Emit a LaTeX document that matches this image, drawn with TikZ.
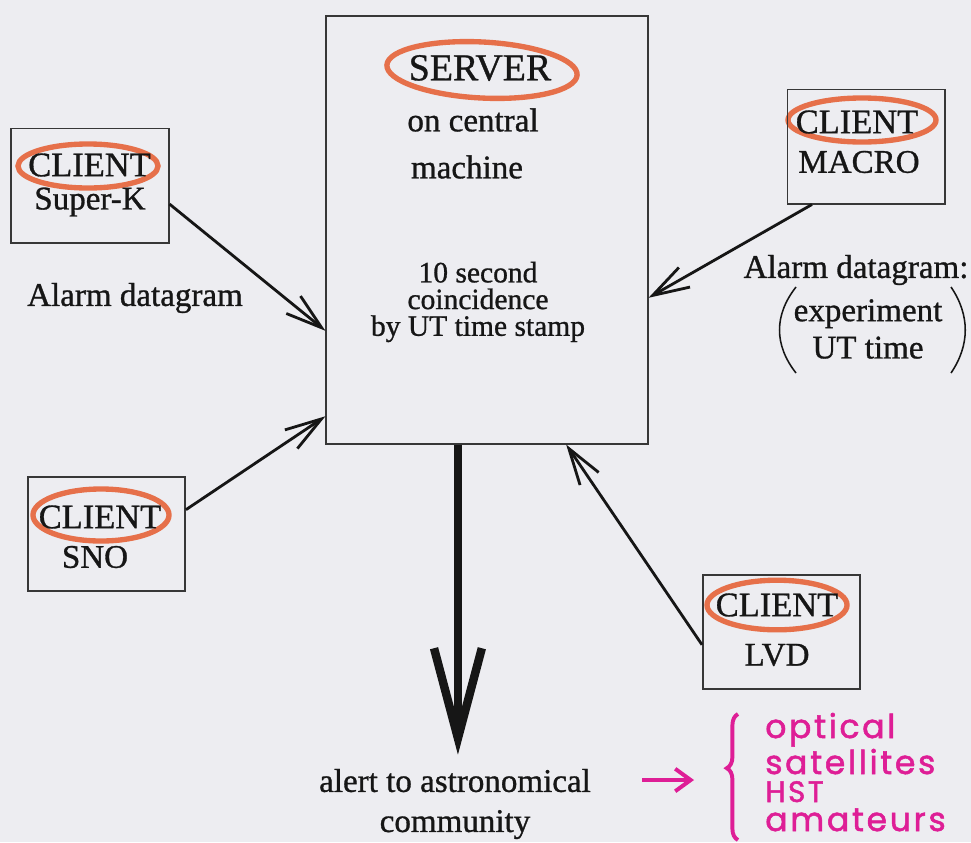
\documentclass[tikz,border=0pt]{standalone}
\usepackage{fontspec}
\setmainfont[FakeBold=0.9]{Liberation Serif}
\newfontfamily\handfont[LetterSpace=8,FakeBold=1.6]{Poppins}
\usetikzlibrary{arrows.meta,calc,decorations.pathreplacing}
\definecolor{paper}{RGB}{237,237,241}
\definecolor{ringc}{RGB}{230,112,74}
\definecolor{handc}{RGB}{222,30,150}
\definecolor{boxline}{RGB}{55,55,55}
\definecolor{ink}{RGB}{22,22,22}
\pgfdeclarelayer{paperlayer}
\pgfdeclarelayer{bg}
\pgfsetlayers{paperlayer,bg,main}
\tikzset{
  clientbox/.style={draw=boxline, line width=1.4pt, minimum width=3.925cm, minimum height=2.85cm, inner sep=0pt},
  serverbox/.style={draw=boxline, line width=1.4pt, minimum width=8.025cm, minimum height=10.675cm, inner sep=0pt},
  txt/.style={font=\fontsize{23.5}{28.5}\selectfont, inner sep=0pt, text=ink},
  clienttxt/.style={font=\fontsize{24.5}{28}\selectfont, inner sep=0pt, text=ink},
  servertxt/.style={font=\fontsize{27}{30}\selectfont, inner sep=0pt, text=ink},
  smalltxt/.style={font=\fontsize{21}{19}\selectfont, inner sep=0pt, text=ink},
  handtxt/.style={font=\handfont\fontsize{23.5}{24}\selectfont, inner sep=0pt, text=handc, anchor=base west, text depth=0pt},
  ringline/.style={draw=ringc, line width=3.8pt},
  thinarrow/.style={draw=ink, line width=2pt, -{Straight Barb[length=26pt,width=16pt]}},
  bigarrow/.style={draw=ink, line width=6pt, -{Straight Barb[length=64pt,width=34pt]}},
  handarrow/.style={draw=handc, line width=2.8pt, -{Straight Barb[length=11pt,width=16pt]}},
}
\begin{document}
\begin{tikzpicture}[x=0.025cm,y=-0.025cm]
\begin{pgfonlayer}{paperlayer}
\fill[paper] (0,0) rectangle (971,842);
\end{pgfonlayer}
\useasboundingbox (0,0) rectangle (971,842);

% boxes
\node[serverbox] (srv) at (487,230) {};
\node[clientbox] (sk) at (90,185.5) {};
\node[clientbox] (sno) at (106.5,534) {};
\node[clientbox] (macro) at (866,146.5) {};
\node[clientbox] (lvd) at (781.5,632) {};

% server texts
\node[servertxt] (st) at (480,68) {SERVER};
\node[txt] (oncentral) at (473,120) {on central};
\node[txt] (machine) at (467,167) {machine};
\node[smalltxt, align=center] (coinc) at (478,302) {10 second\\coincidence\\by UT time stamp};

% client texts
\node[clienttxt] (c1) at (89.5,165) {CLIENT};
\node[txt] (n1) at (90,202) {Super-K};
\node[clienttxt] (c2) at (100,517) {CLIENT};
\node[txt] (n2) at (95,557) {SNO};
\node[clienttxt] (c3) at (857,122) {CLIENT};
\node[txt] (n3) at (859,162) {MACRO};
\node[clienttxt] (c4) at (777,605) {CLIENT};
\node[txt] (n4) at (777,655) {LVD};

% orange rings
\begin{pgfonlayer}{bg}
\draw[ringline, rotate around={-3:(482,70)}] (482,70) ellipse [x radius=2.38cm, y radius=0.7cm];
\draw[ringline] (88,166) ellipse [x radius=1.75cm, y radius=0.55cm];
\draw[ringline] (862,120) ellipse [x radius=1.85cm, y radius=0.55cm];
\draw[ringline] (101,515) ellipse [x radius=1.7cm, y radius=0.65cm];
\draw[ringline] (777,605) ellipse [x radius=1.75cm, y radius=0.62cm];
\end{pgfonlayer}

% labels
\node[txt] (ad1) at (135,298) {Alarm datagram};
\node[txt] (ad2) at (856,270) {Alarm datagram:};
\node[txt, align=center, font=\fontsize{23.5}{26.5}\selectfont] (dg) at (868,329) {experiment\\UT time};
\draw[ink, line width=1.1pt] (796,287) .. controls (774,315) and (774,345) .. (796,373);
\draw[ink, line width=1.1pt] (951,287) .. controls (970,315) and (970,345) .. (951,373);

\node[txt, align=center] (alert) at (455,804) {alert to astronomical\\community};

% arrows
\draw[thinarrow] ($(sk.north east)!0.66!(sk.south east)$) -- ($(srv.north west)!0.735!(srv.south west)$);
\draw[thinarrow] ($(sno.north east)!0.29!(sno.south east)$) -- ($(srv.north west)!0.934!(srv.south west)$);
\draw[thinarrow] ($(macro.south west)!0.16!(macro.south east)$) -- ($(srv.north east)!0.658!(srv.south east)$);
\draw[thinarrow] ($(lvd.north west)!0.61!(lvd.south west)$) -- ($(srv.south west)!0.745!(srv.south east)$);
\coordinate (down) at ($(srv.south west)!0.41!(srv.south east)$);
\draw[bigarrow] (down) -- ($(down |- alert.north)+(0,-14)$);

% handwritten annotation
\coordinate (ha) at (642,780);
\coordinate (hb) at (694,780);
\draw[handarrow] (ha) -- (hb);
\draw[handc, line width=2.8pt, decorate, decoration={brace, amplitude=0.28cm, aspect=0.57}] (738,840) -- (738,714);
\node[handtxt, text depth=4pt] (h1) at (765,738) {optical};
\node[handtxt] (h2) at (765,774) {satellites};
\node[handtxt, font=\handfont\fontsize{21}{21}\selectfont, text height=15pt] (h3) at (765,802) {HST};
\node[handtxt] (h4) at (765,831) {amateurs};
\end{tikzpicture}
\end{document}
